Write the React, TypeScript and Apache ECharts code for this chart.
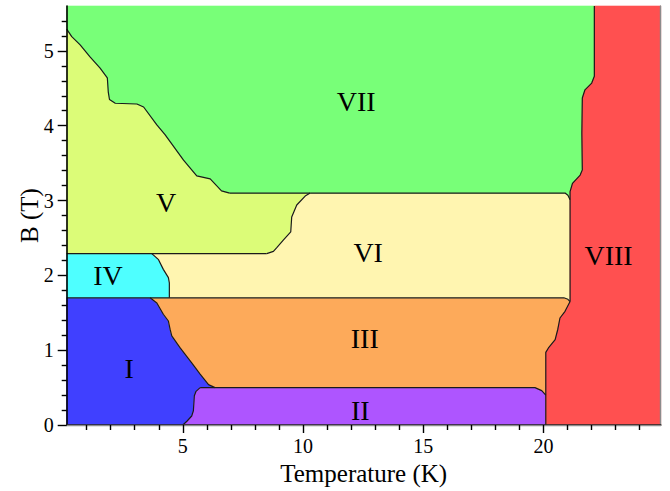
import React, { useEffect, useRef } from 'react';
import * as echarts from 'echarts';

// Axis extents (data units)
const X_MIN = 0.17;
const X_MAX = 24.88;
const Y_MIN = 0;
const Y_MAX = 5.6;

// Tick labels
const xTickValues = [5, 10, 15, 20];
const yTickValues = [0, 1, 2, 3, 4, 5];

// Region names and label anchor points (T in K, B in T)
const regionNames = ['I', 'II', 'III', 'IV', 'V', 'VI', 'VII', 'VIII'];
const labelT = [2.77, 12.38, 12.57, 1.89, 4.31, 12.71, 12.21, 22.71];
const labelB = [0.76, 0.2, 1.15, 2.0, 2.97, 2.3, 4.33, 2.26];

// Phase boundaries [T, B]
const bVII_V = [
  [0.17, 5.29], [0.38, 5.19], [0.73, 5.08], [1.14, 4.92], [1.56, 4.77], [1.86, 4.64],
  [1.9, 4.45], [1.95, 4.35], [2.19, 4.3], [3.09, 4.29], [3.37, 4.25], [3.92, 4.01],
  [4.26, 3.88], [5.03, 3.54], [5.58, 3.33], [6.14, 3.29], [6.61, 3.13], [6.95, 3.1],
];
const bVII_Vflat = [[6.95, 3.1], [10.3, 3.1]];
const bVII_VI = [[10.3, 3.1], [20.9, 3.1], [21.02, 3.07], [21.11, 3.01]];
const bV_VI = [
  [10.3, 3.1], [10.09, 3.06], [9.74, 2.94], [9.53, 2.78], [9.49, 2.58], [9.18, 2.47],
  [8.91, 2.37], [8.77, 2.32], [8.49, 2.29],
];
const b229 = [[0.17, 2.29], [3.71, 2.29], [8.49, 2.29]];
const bIV_VI = [[3.71, 2.29], [3.99, 2.21], [4.19, 2.08], [4.4, 1.97], [4.44, 1.9], [4.44, 1.7]];
const b170 = [[0.17, 1.7], [3.64, 1.7], [4.44, 1.7], [20.85, 1.7], [21.02, 1.68], [21.11, 1.65]];
const bVIIIa = [
  [22.12, 5.6], [22.12, 4.66], [22.01, 4.57], [21.73, 4.48], [21.62, 4.37], [21.6, 3.9],
  [21.62, 3.41], [21.53, 3.34], [21.21, 3.23], [21.11, 3.12], [21.11, 3.01],
];
const bVIIIb = [[21.11, 3.01], [21.11, 1.65]];
const bVIIIc = [
  [21.11, 1.65], [20.9, 1.52], [20.69, 1.43], [20.6, 1.28], [20.49, 1.14], [20.21, 1.03],
  [20.1, 0.97], [20.1, 0.4],
];
const bVIIId = [[20.1, 0.4], [20.1, 0]];
const bI_III = [
  [3.64, 1.7], [3.92, 1.63], [4.19, 1.48], [4.4, 1.39], [4.47, 1.28], [4.54, 1.19],
  [4.89, 1.03], [5.37, 0.83], [5.72, 0.68], [6.07, 0.54], [6.34, 0.5],
];
const b050 = [[5.72, 0.5], [6.34, 0.5], [19.65, 0.5], [19.93, 0.46], [20.1, 0.4]];
const bI_II = [
  [5.72, 0.5], [5.55, 0.45], [5.48, 0.39], [5.44, 0.19], [5.37, 0.12], [5.17, 0.05], [5.0, 0],
];

const regionColors = ['#4040FF', '#AE55FF', '#FDAA5A', '#4EFFFF', '#DCFC78', '#FFF5B0', '#78FF78', '#FF5050'];

const rev = (a: number[][]) => [...a].reverse();

function buildPolygons(): number[][][] {
  const I = [[X_MIN, 1.7], ...bI_III, [5.72, 0.5], ...bI_II, [X_MIN, 0]];
  const II = [...b050, ...bVIIId, ...rev(bI_II)];
  const III = [...b170.slice(1), ...bVIIIc, ...rev(b050).slice(0, 4), ...rev(bI_III)];
  const IV = [[X_MIN, 2.29], ...bIV_VI, [X_MIN, 1.7]];
  const V = [...bVII_V, ...bVII_Vflat, ...bV_VI, ...rev(b229)];
  const VI = [
    ...b229.slice(1), ...rev(bV_VI), ...bVII_VI, ...bVIIIb,
    ...rev(b170).slice(0, 4), ...rev(bIV_VI),
  ];
  const VII = [[X_MIN, Y_MAX], ...bVIIIa, ...rev(bVII_VI), ...rev(bVII_Vflat), ...rev(bVII_V)];
  const VIII = [
    [X_MAX, Y_MAX], [X_MAX, Y_MIN], ...rev(bVIIId), ...rev(bVIIIc), ...rev(bVIIIb), ...rev(bVIIIa),
  ];
  return [I, II, III, IV, V, VI, VII, VIII];
}

const boundaryLines = [
  bVII_V, bVII_Vflat, bVII_VI, bV_VI, b229, bIV_VI, b170,
  bVIIIa, bVIIIb, bVIIIc, bVIIId, bI_III, b050, bI_II,
];

const FONT = '"Liberation Serif", "Times New Roman", serif';

export default function App() {
  const ref = useRef<HTMLDivElement>(null);
  useEffect(() => {
    if (!ref.current) return;
    const chart = echarts.init(ref.current, null, { renderer: 'svg' });
    const polygons = buildPolygons();

    const axisCommon = {
      type: 'value',
      z: 10,
    };

    const option: any = {
      animation: false,
      backgroundColor: '#ffffff',
      grid: { left: 66.7, right: 9.3, top: 6, bottom: 65.3, containLabel: false },
      xAxis: [
        {
          ...axisCommon,
          min: X_MIN,
          max: X_MAX,
          minInterval: 5,
          maxInterval: 5,
          position: 'bottom',
          name: 'Temperature (K)',
          nameLocation: 'middle',
          nameGap: 36,
          nameMoveOverlap: false,
          nameTextStyle: { fontFamily: FONT, fontSize: 25, color: '#000' },
          axisLine: { show: true, lineStyle: { color: '#000', width: 1.6 } },
          axisTick: { show: true, customValues: xTickValues, length: 8, lineStyle: { color: '#000', width: 1.4 } },
          minorTick: { show: true, splitNumber: 5, length: 5, lineStyle: { color: '#000', width: 1.4 } },
          axisLabel: { show: true, customValues: xTickValues, margin: 11, fontFamily: FONT, fontSize: 20, color: '#000' },
          splitLine: { show: false },
        },
        {
          ...axisCommon,
          min: X_MIN,
          max: X_MAX,
          position: 'top',
          axisLine: { show: true, lineStyle: { color: '#8c8c8c', width: 1.4 } },
          axisTick: { show: false },
          axisLabel: { show: false },
          splitLine: { show: false },
        },
      ],
      yAxis: [
        {
          ...axisCommon,
          min: Y_MIN,
          max: Y_MAX,
          interval: 1,
          position: 'left',
          name: 'B (T)',
          nameLocation: 'middle',
          nameGap: 25,
          nameMoveOverlap: false,
          nameTextStyle: { fontFamily: FONT, fontSize: 25, color: '#000' },
          axisLine: { show: true, lineStyle: { color: '#000', width: 1.6 } },
          axisTick: { show: true, customValues: yTickValues, length: 9, lineStyle: { color: '#000', width: 1.4 } },
          minorTick: { show: true, splitNumber: 5, length: 5, lineStyle: { color: '#000', width: 1.4 } },
          axisLabel: { show: true, customValues: yTickValues, margin: 13, fontFamily: FONT, fontSize: 20, color: '#000' },
          splitLine: { show: false },
        },
        {
          ...axisCommon,
          min: Y_MIN,
          max: Y_MAX,
          position: 'right',
          axisLine: { show: true, lineStyle: { color: '#8c8c8c', width: 1.4 } },
          axisTick: { show: false },
          axisLabel: { show: false },
          splitLine: { show: false },
        },
      ],
      series: [
        {
          type: 'custom',
          name: 'regions',
          xAxisIndex: 0,
          yAxisIndex: 0,
          z: 1,
          silent: true,
          data: regionNames.map((_, i) => [labelT[i], labelB[i]]),
          renderItem: (params: any, api: any) => {
            const i = params.dataIndex;
            const pts = polygons[i].map((p) => api.coord(p));
            return {
              type: 'polygon',
              shape: { points: pts },
              style: { fill: regionColors[i], stroke: regionColors[i], lineWidth: 0.6 },
            };
          },
        },
        ...boundaryLines.map((line, k) => ({
          type: 'line',
          name: 'boundary' + k,
          xAxisIndex: 0,
          yAxisIndex: 0,
          z: 3,
          silent: true,
          symbol: 'none',
          showSymbol: false,
          data: line,
          lineStyle: { color: '#1a1a1a', width: 1.2 },
        })),
        {
          type: 'custom',
          name: 'labels',
          xAxisIndex: 0,
          yAxisIndex: 0,
          z: 5,
          silent: true,
          data: regionNames.map((_, i) => [labelT[i], labelB[i]]),
          renderItem: (params: any, api: any) => {
            const i = params.dataIndex;
            const c = api.coord([api.value(0), api.value(1)]);
            return {
              type: 'text',
              x: c[0],
              y: c[1],
              style: {
                text: regionNames[i],
                fill: '#000',
                font: `28px ${FONT}`,
                align: 'center',
                verticalAlign: 'middle',
              },
            };
          },
        },
      ],
    };
    chart.setOption(option);
    return () => chart.dispose();
  }, []);

  return (
    <div
      ref={ref}
      style={{ position: 'absolute', left: 0, top: 0, width: 670, height: 491 }}
    />
  );
}
